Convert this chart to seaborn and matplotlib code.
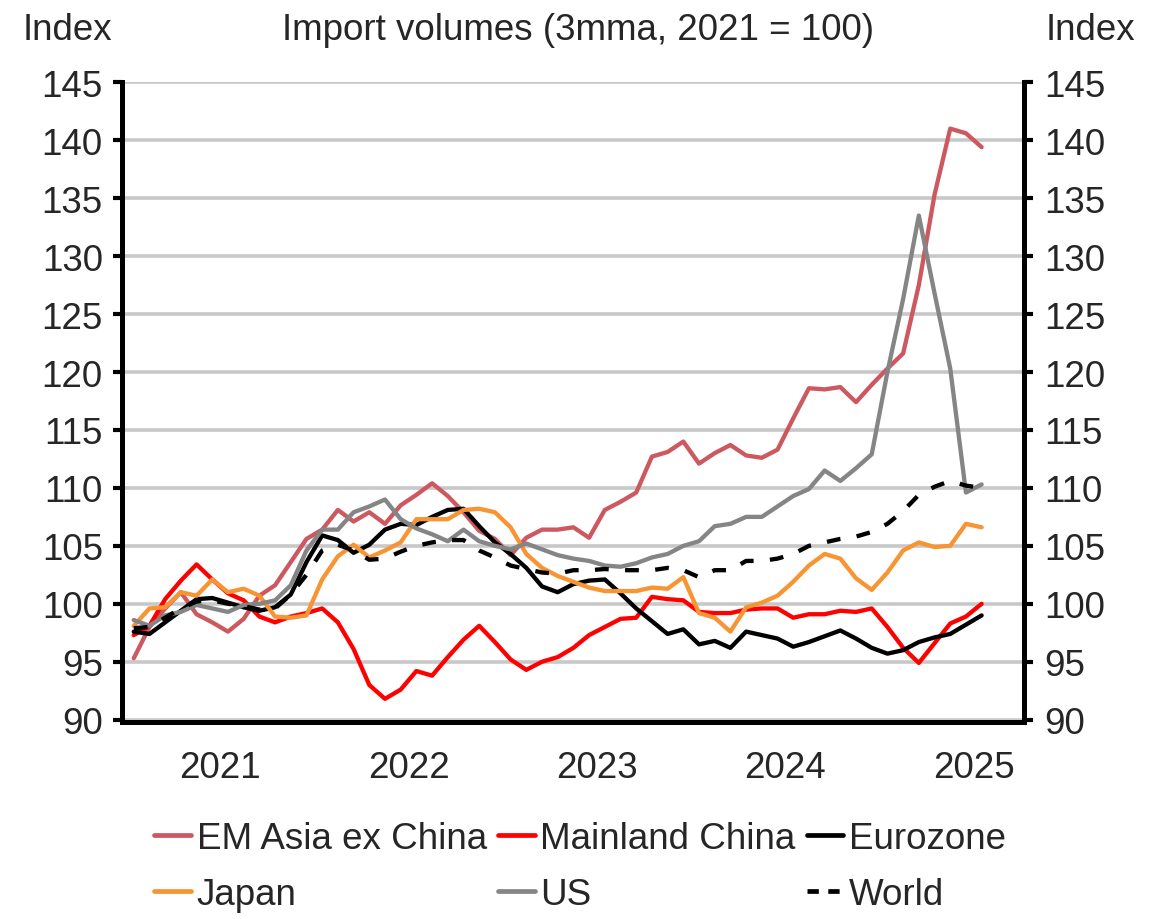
import numpy as np
import pandas as pd
import matplotlib
matplotlib.use("Agg")
import matplotlib.pyplot as plt
import seaborn as sns
from matplotlib.lines import Line2D

# monthly, Jan 2021 .. Jul 2025
months = pd.date_range("2021-01-01", periods=55, freq="MS")
years = ["2021", "2022", "2023", "2024", "2025"]

em_asia = [95.3, 98.0, 99.6, 101.0, 99.1, 98.4, 97.6, 98.7, 100.7, 101.6, 103.6, 105.6,
           106.4, 108.1, 107.1, 107.9, 106.9, 108.5, 109.4, 110.4, 109.3, 107.9, 106.3, 105.6,
           104.2, 105.7, 106.4, 106.4, 106.6, 105.7, 108.1, 108.8, 109.6, 112.7, 113.1, 114.0,
           112.1, 113.0, 113.7, 112.8, 112.6, 113.3, 116.0, 118.6, 118.5, 118.7, 117.4, 118.9,
           120.3, 121.6, 127.5, 135.3, 141.0, 140.6, 139.4]
china = [97.3, 98.1, 100.4, 102.0, 103.4, 102.1, 100.9, 100.3, 98.9, 98.4, 98.9, 99.2,
         99.6, 98.4, 96.1, 93.0, 91.8, 92.6, 94.2, 93.8, 95.4, 96.9, 98.1, 96.7,
         95.2, 94.3, 95.0, 95.4, 96.2, 97.3, 98.0, 98.7, 98.8, 100.6, 100.4, 100.3,
         99.3, 99.2, 99.2, 99.5, 99.6, 99.6, 98.8, 99.1, 99.1, 99.4, 99.3, 99.6,
         98.0, 96.2, 94.9, 96.6, 98.3, 98.9, 100.0]
eurozone = [97.6, 97.4, 98.4, 99.4, 100.4, 100.5, 100.1, 99.7, 99.4, 99.7, 100.8, 103.6,
            105.9, 105.5, 104.4, 105.1, 106.4, 106.9, 106.8, 107.5, 108.1, 108.2, 106.7, 105.3,
            104.3, 103.1, 101.5, 101.0, 101.7, 102.0, 102.1, 100.9, 99.6, 98.5, 97.4, 97.8,
            96.5, 96.8, 96.2, 97.6, 97.3, 97.0, 96.3, 96.7, 97.2, 97.7, 97.0, 96.2,
            95.7, 96.0, 96.7, 97.1, 97.4, 98.2, 99.0]
japan = [98.1, 99.6, 99.7, 101.0, 100.7, 102.1, 101.0, 101.3, 100.7, 98.9, 98.8, 99.0,
         102.1, 104.1, 105.1, 104.0, 104.6, 105.3, 107.3, 107.3, 107.3, 108.1, 108.2, 107.9,
         106.6, 104.3, 103.1, 102.4, 101.9, 101.4, 101.1, 101.1, 101.1, 101.4, 101.3, 102.3,
         99.2, 98.8, 97.6, 99.7, 100.1, 100.7, 101.9, 103.3, 104.3, 103.9, 102.2, 101.2,
         102.7, 104.6, 105.3, 104.9, 105.0, 106.9, 106.6]
us = [98.6, 98.1, 99.0, 99.3, 99.9, 99.6, 99.3, 99.9, 100.0, 100.3, 101.6, 104.6,
      106.4, 106.4, 107.9, 108.4, 109.0, 107.3, 106.5, 106.0, 105.4, 106.4, 105.4, 105.0,
      104.7, 105.2, 104.7, 104.2, 103.9, 103.7, 103.3, 103.2, 103.5, 104.0, 104.3, 105.0,
      105.4, 106.7, 106.9, 107.5, 107.5, 108.4, 109.3, 109.9, 111.5, 110.6, 111.7, 112.9,
      120.0, 126.3, 133.5, 126.8, 120.3, 109.6, 110.3]
world = [97.9, 98.0, 98.8, 99.6, 100.2, 100.3, 100.0, 99.8, 99.5, 99.6, 100.8, 102.5,
         104.6, 105.1, 104.6, 103.8, 103.9, 104.5, 105.0, 105.3, 105.5, 105.5, 104.6, 104.0,
         103.3, 103.0, 102.7, 102.6, 102.9, 102.9, 103.0, 102.9, 102.9, 102.9, 103.1, 102.9,
         102.3, 102.9, 102.9, 103.7, 103.7, 103.9, 104.3, 105.0, 105.3, 105.6, 105.8, 106.2,
         106.9, 108.0, 109.4, 110.1, 110.6, 110.2, 110.0]

order = ["EM Asia ex China", "Mainland China", "Eurozone", "Japan", "US", "World"]
colors = {"EM Asia ex China": "#cd5860", "Mainland China": "#ff0000", "Eurozone": "#000000",
          "Japan": "#f79433", "US": "#858585", "World": "#000000"}
dashes = {"EM Asia ex China": "", "Mainland China": "", "Eurozone": "", "Japan": "",
          "US": "", "World": (3.2, 3.8)}

df = pd.DataFrame({"month": months, "EM Asia ex China": em_asia, "Mainland China": china,
                   "Eurozone": eurozone, "Japan": japan, "US": us, "World": world})
df["idx"] = np.arange(len(df))
long = df.melt(id_vars=["month", "idx"], var_name="series", value_name="value")

sns.set_theme(style="white")
plt.rcParams["font.family"] = ["Liberation Sans", "DejaVu Sans"]

fig = plt.figure(figsize=(11.65, 9.2), dpi=100)
ax = fig.add_axes([0.1043, 0.2136, 0.7747, 0.6959])

ax.yaxis.grid(True, color="#c8c8c8", linewidth=2.6)
ax.set_axisbelow(True)

sns.lineplot(data=long, x="idx", y="value", hue="series", style="series",
             hue_order=order, style_order=order, palette=colors, dashes=dashes,
             linewidth=3.1, legend=False, ax=ax)

yticks = list(range(90, 146, 5))
ax.set_ylim(89.76, 145)
ax.set_xlim(-0.78, 56.7)
ax.set_yticks(yticks)
ax.set_yticklabels([str(t) for t in yticks], fontsize=26.5)
ax.set_xlabel("")
ax.set_ylabel("")

# year boundaries as ticks, labels at mid-year
ax.set_xticks([-0.5 + 12 * k for k in range(5)])
ax.set_xticklabels([])
ax.set_xticks([5.5 + 12 * k for k in range(5)], minor=True)
ax.set_xticklabels(years, minor=True, fontsize=26.5)
ax.tick_params(axis="x", which="major", direction="out", length=6.5, width=3.5, color="black")
ax.tick_params(axis="x", which="minor", length=0, pad=20)
ax.tick_params(axis="y", direction="out", length=6.5, width=3, color="black", pad=7, left=True)

ax2 = ax.twinx()
ax2.set_ylim(ax.get_ylim())
ax2.set_yticks(yticks)
ax2.set_yticklabels([str(t) for t in yticks], fontsize=26.5)
ax2.tick_params(axis="y", direction="out", length=6.5, width=3, color="black", pad=8, right=True)
ax2.grid(False)

for s in ["top", "right"]:
    ax.spines[s].set_visible(False)
for s in ["top", "left", "bottom"]:
    ax2.spines[s].set_visible(False)
for sp in [ax.spines["left"], ax.spines["bottom"], ax2.spines["right"]]:
    sp.set_color("black")
    sp.set_linewidth(3.6)

fig.text(0.058, 0.967, "Index", fontsize=26.5, ha="center", va="center")
fig.text(0.496, 0.967, "Import volumes (3mma, 2021 = 100)", fontsize=26.5, ha="center", va="center")
fig.text(0.936, 0.967, "Index", fontsize=26.5, ha="center", va="center")

leg_order = ["EM Asia ex China", "Japan", "Mainland China", "US", "Eurozone", "World"]
handles = []
for name in leg_order:
    ls = (0, (2.4, 2.0)) if name == "World" else "-"
    handles.append(Line2D([0], [0], color=colors[name], linewidth=3.4, linestyle=ls))
fig.legend(handles, leg_order, loc="center", bbox_to_anchor=(0.498, 0.057), ncol=3,
           frameon=False, fontsize=26.5, handlelength=1.0, handletextpad=0.15,
           columnspacing=0.3, labelspacing=0.58, borderaxespad=0)

fig.savefig("out.png", dpi=100)
